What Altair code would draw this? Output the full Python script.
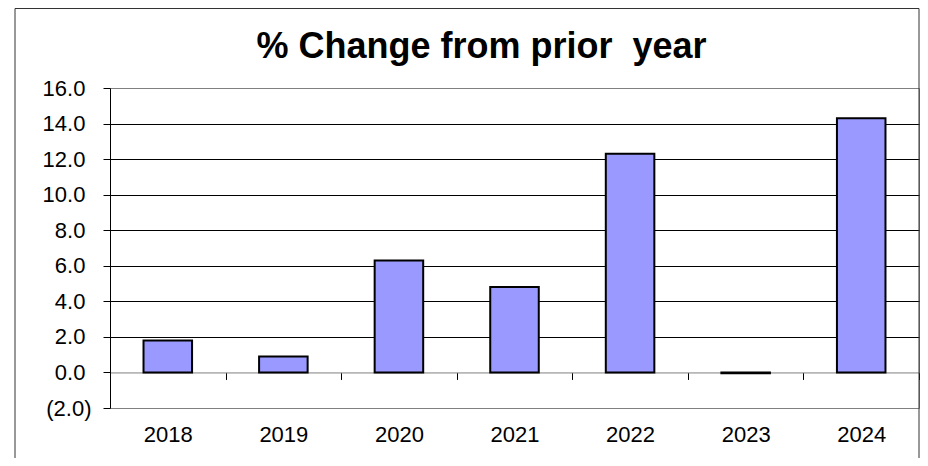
import altair as alt
import pandas as pd

years = ["2018", "2019", "2020", "2021", "2022", "2023", "2024"]
pct_change = [1.8, 0.9, 6.3, 4.8, 12.3, -0.05, 14.3]
y_ticks = [-2, 0, 2, 4, 6, 8, 10, 12, 14, 16]
title_text = ["% Change from prior \u00a0year"]

W, H = 809, 320
FONT = "Liberation Sans"
Y_MIN, Y_MAX = -2, 16
zero_offset = -(H - H * Y_MAX / (Y_MAX - Y_MIN))

df = pd.DataFrame({"year": years, "pct": pct_change})

# Excel-style accounting format: negatives in parentheses, positives keep
# a trailing space the width of ")".
label_expr = ("datum.value < 0 ? '(' + format(-datum.value, '.1f') + ')' : "
              "format(datum.value, '.1f') + '\u00a0\u200b'")

bars = alt.Chart(df).mark_bar(
    color="#9999FF", stroke="black", strokeWidth=2,
    width=alt.RelativeBandSize(0.42)
).encode(
    x=alt.X("year:N", sort=years,
            scale=alt.Scale(paddingInner=0, paddingOuter=0),
            axis=alt.Axis(title=None, orient="bottom", offset=zero_offset,
                          domainColor="#808080", domainWidth=1,
                          tickColor="black", tickSize=7, tickWidth=1,
                          tickBand="extent", labelAngle=0,
                          labelFont=FONT, labelFontSize=22,
                          labelColor="black", labelPadding=45, grid=False)),
    y=alt.Y("pct:Q",
            scale=alt.Scale(domain=[Y_MIN, Y_MAX], nice=False, zero=False),
            axis=alt.Axis(title=None, values=y_ticks, labelExpr=label_expr,
                          labelFont=FONT, labelFontSize=22,
                          labelColor="black", labelPadding=12,
                          tickSize=7, tickColor="black", tickWidth=1,
                          domainColor="black", domainWidth=1,
                          grid=True, gridWidth=1,
                          gridColor=alt.condition(
                              "datum.value == 0 || datum.value == -2 || datum.value == 16",
                              alt.value("transparent"), alt.value("black"))))
)

title_layer = alt.Chart(pd.DataFrame({"t": title_text})).mark_text(
    font=FONT, fontSize=36, fontWeight="bold", color="black",
    align="center", baseline="alphabetic"
).encode(text="t:N", x=alt.value(371.5), y=alt.value(-30))

frame = alt.Chart(pd.DataFrame({"f": [0]})).mark_rect(
    fillOpacity=0, stroke="#333333", strokeWidth=1
).encode(x=alt.value(-95), x2=alt.value(W), y=alt.value(-79.5), y2=alt.value(600))

chart = alt.layer(frame, bars, title_layer).properties(
    width=W, height=H,
    padding={"left": 102, "top": 80, "right": 1, "bottom": 50},
    autosize=alt.AutoSizeParams(type="none"),
    background="white",
).configure_view(stroke="#808080", strokeWidth=1)

chart.save("out.html", embed_options={"renderer": "svg", "actions": False})
